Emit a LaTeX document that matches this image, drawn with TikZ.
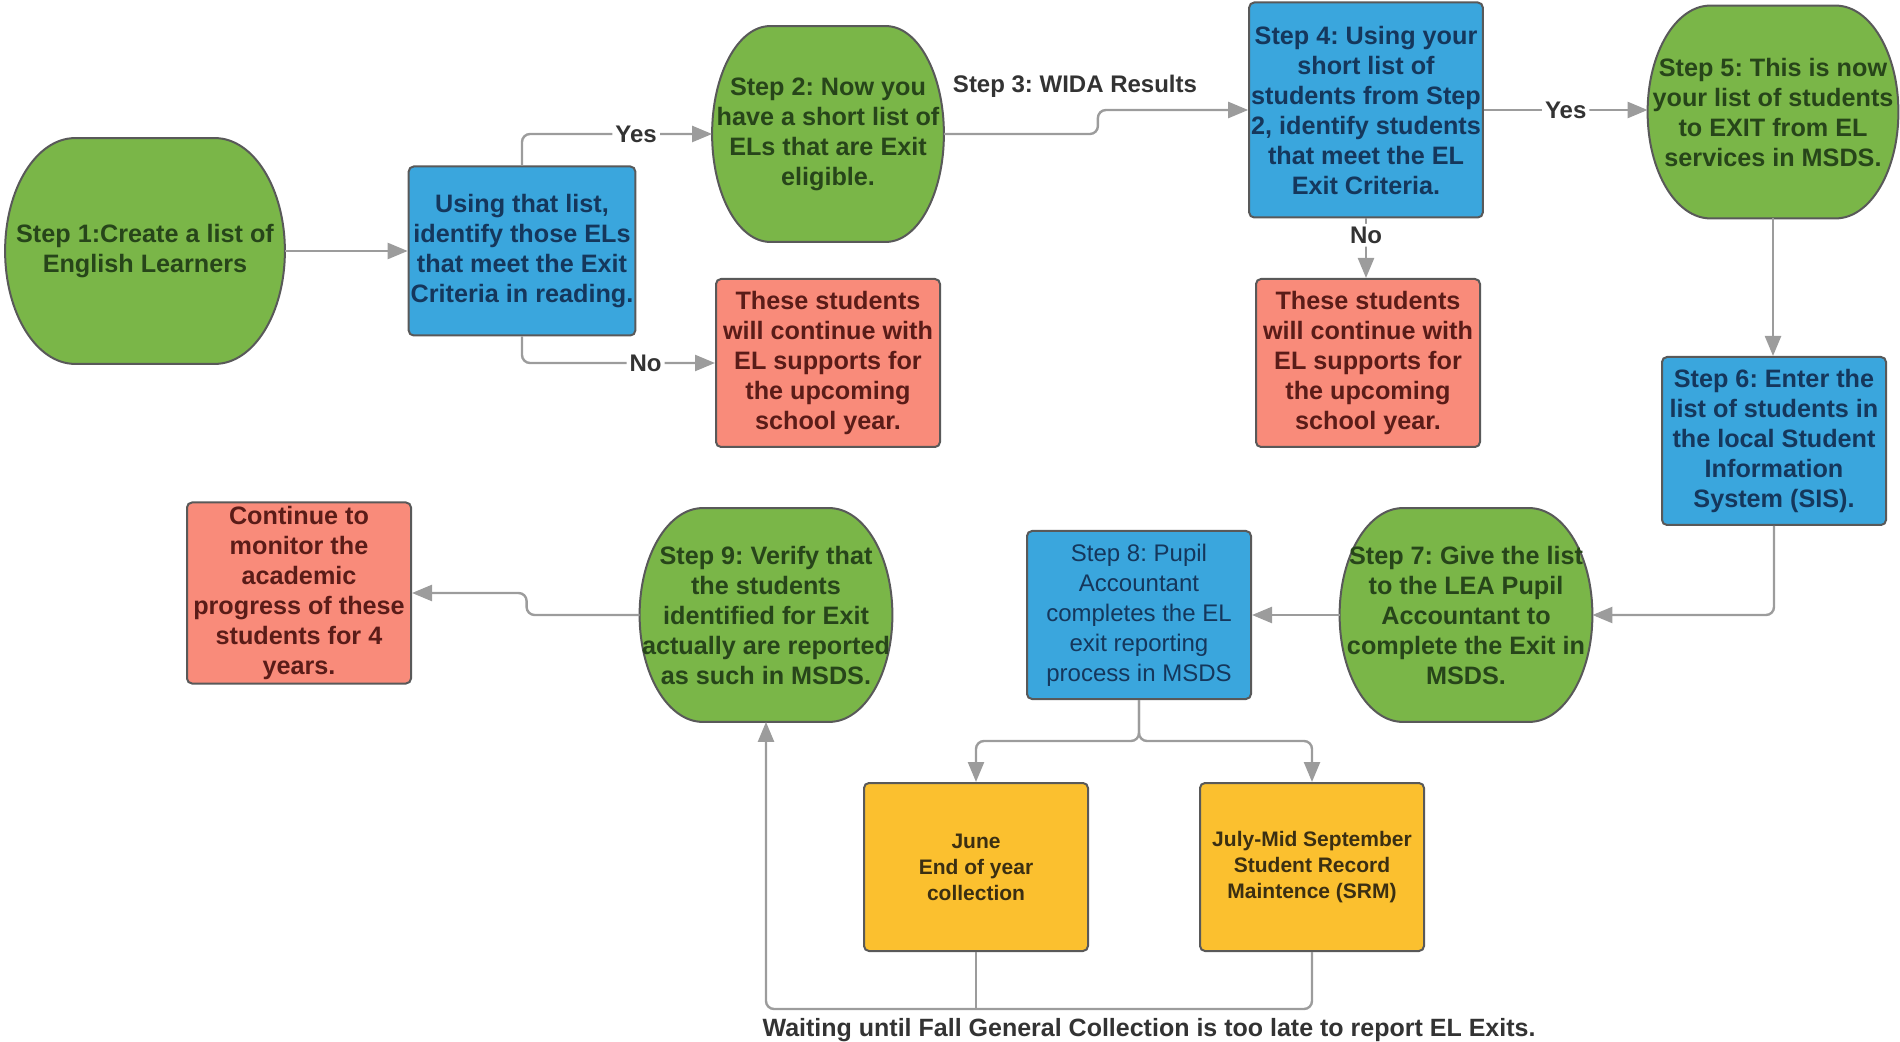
\documentclass[tikz,border=0pt]{standalone}
\usepackage{fontspec}
\setmainfont{Liberation Sans}
\usetikzlibrary{arrows.meta,calc,backgrounds}
\frenchspacing

\definecolor{stepgreen}{HTML}{7AB648}
\definecolor{stepblue}{HTML}{3AA6DD}
\definecolor{stepred}{HTML}{F98B7A}
\definecolor{stepyellow}{HTML}{FBC02F}
\definecolor{greentext}{HTML}{27451A}
\definecolor{bluetext}{HTML}{15375C}
\definecolor{redtext}{HTML}{5A1C18}
\definecolor{yellowtext}{HTML}{3B2F12}
\definecolor{boxline}{HTML}{595959}
\definecolor{flowgray}{HTML}{9C9C9C}
\definecolor{labeltext}{HTML}{333333}

\tikzset{
  box/.style={draw=boxline, line width=1pt, rounded corners=2.5pt, align=center,
    inner sep=1pt, minimum width=112pt, minimum height=84pt,
    font=\bfseries\fontsize{12.6}{15}\selectfont},
  bluebox/.style={box, fill=stepblue, text=bluetext},
  redbox/.style={box, fill=stepred, text=redtext},
  yellowbox/.style={box, fill=stepyellow, text=yellowtext,
    font=\bfseries\fontsize{10.5}{13}\selectfont},
  greenstep/.style={align=center, inner sep=0pt, minimum width=126pt,
    minimum height=106.5pt, text=greentext,
    font=\bfseries\fontsize{12.6}{15}\selectfont},
  barrel/.style={draw=boxline, fill=stepgreen, line width=1pt},
  line/.style={draw=flowgray, line width=1.2pt, rounded corners=4pt},
  flow/.style={line, -{Triangle[length=10pt,width=8pt]}},
  lbl/.style={fill=white, inner sep=1.5pt, text=labeltext,
    font=\bfseries\fontsize{12}{14}\selectfont},
}

\begin{document}
\begin{tikzpicture}[x=0.5pt,y=-0.5pt]
\useasboundingbox (0,0) rectangle (1900,1042);

% top row
\node[greenstep, minimum width=139.5pt, minimum height=112.5pt] (s1) at (145,251) {Step 1:Create a list of\\English Learners};
\node[bluebox, minimum height=84.5pt] (b1) at (522,251) {Using that list,\\identify those ELs\\that meet the Exit\\Criteria in reading.};
\node[greenstep, minimum width=115.5pt, minimum height=107.5pt] (s2) at (828,134) {Step 2: Now you\\have a short list of\\ELs that are Exit\\eligible.};
\node[redbox] (r1) at (828,363) {These students\\will continue with\\EL supports for\\the upcoming\\school year.};
\node[bluebox, minimum width=115.5pt, minimum height=107.5pt] (s4) at (1366,110) {Step 4: Using your\\short list of\\students from Step\\2, identify students\\that meet the EL\\Exit Criteria.};
\node[redbox] (r2) at (1368,363) {These students\\will continue with\\EL supports for\\the upcoming\\school year.};
\node[greenstep, minimum width=125pt, minimum height=106pt] (s5) at (1773,112) {Step 5: This is now\\your list of students\\to EXIT from EL\\services in MSDS.};
\node[bluebox] (s6) at (1774,441) {Step 6: Enter the\\list of students in\\the local Student\\Information\\System (SIS).};

% bottom row
\node[greenstep] (s7) at (1466,615) {Step 7: Give the list\\to the LEA Pupil\\Accountant to\\complete the Exit in\\MSDS.};
\node[bluebox, font=\fontsize{12}{15}\selectfont] (s8) at (1139,615) {Step 8: Pupil\\Accountant\\completes the EL\\exit reporting\\process in MSDS};
\node[greenstep] (s9) at (766,615) {Step 9: Verify that\\the students\\identified for Exit\\actually are reported\\as such in MSDS.};
\node[redbox, minimum height=90.5pt] (cont) at (299,593) {Continue to\\monitor the\\academic\\progress of these\\students for 4\\years.};
\node[yellowbox] (june) at (976,867) {June\\End of year\\collection};
\node[yellowbox] (july) at (1312,867) {July-Mid September\\Student Record\\Maintence (SRM)};

\node[lbl] (wida) at (1075,86) {Step 3: WIDA Results};
\node[lbl, fill=none, font=\bfseries\fontsize{12.5}{14}\selectfont] (wait) at (1149,1030) {Waiting until Fall General Collection is too late to report EL Exits.};

% green barrels behind the text
\begin{scope}[on background layer]
\foreach \s in {s1,s2,s5,s7,s9}
{
    \path[barrel] let \p1=(\s.south west), \p2=(\s.north east),
        \n1={0.25*(\x2-\x1)}, \n2={0.5*(\y2-\y1)} in
        (\x1+\n1,\y2) -- (\x2-\n1,\y2)
        arc[start angle=90, end angle=-90, x radius=\n1, y radius=\n2]
        -- (\x1+\n1,\y1)
        arc[start angle=270, end angle=90, x radius=\n1, y radius=\n2]
        -- cycle;
}
\end{scope}

% connectors
\draw[flow] (s1.east) -- (b1.west);
\draw[flow] (b1.north) |- node[lbl,pos=0.8]{Yes} (s2.west);
\draw[flow] (b1.south) |- node[lbl,pos=0.82]{No} (r1.west);
\draw[flow] (s2.east) -- ++(154,0) |- (s4.west);
\draw[flow] (s4.east) -- node[lbl]{Yes} (s4.east -| s5.west);
\draw[flow] (s4.south) -- node[lbl,pos=0.28]{No} (s4.south |- r2.north);
\draw[flow] (s5.south) -- (s5.south |- s6.north);
\draw[flow] (s6.south) |- (s7.east);
\draw[flow] (s7.west) -- (s8.east);
\draw[flow] (s8.south) -- ++(0,41) -| (june.north);
\draw[flow] (s8.south) -- ++(0,41) -| (july.north);
\draw[line] (june.south) -- ++(0,57);
\draw[flow] (july.south) -- ++(0,57) -| (s9.south);
\draw[flow] (s9.west) -- ++(-113,0) |- (cont.east);
\end{tikzpicture}
\end{document}
